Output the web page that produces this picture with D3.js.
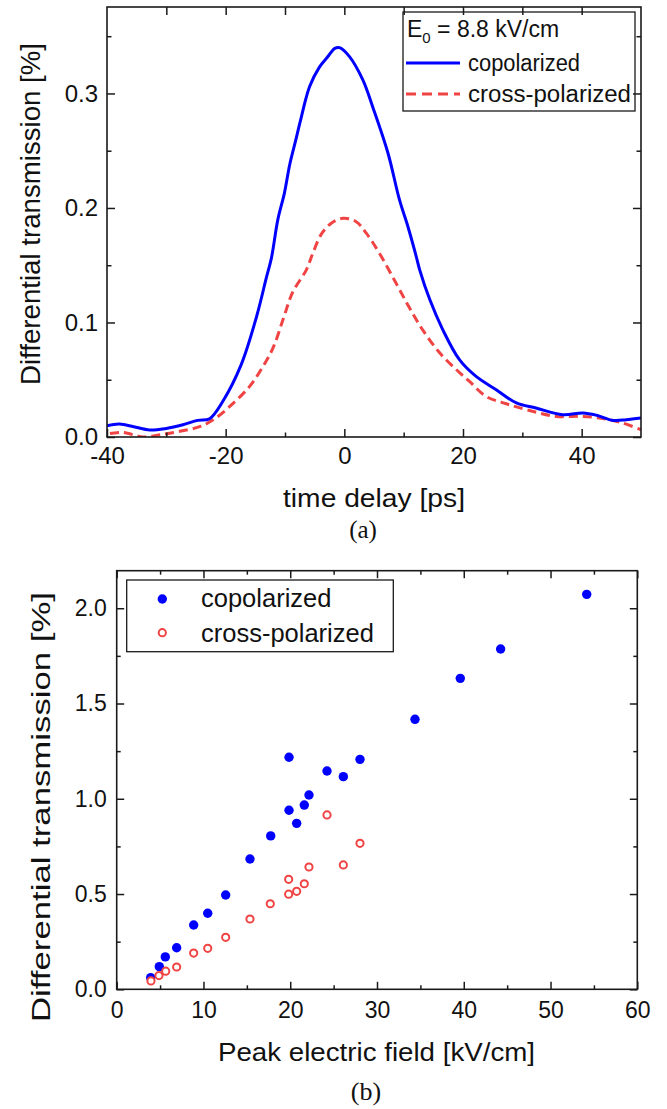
<!DOCTYPE html>
<html>
<head>
<meta charset="utf-8">
<script src="https://cdn.jsdelivr.net/npm/d3@7.9.0/dist/d3.min.js"></script>
<style>
  body { margin: 0; background: #fff; }
  svg { display: block; font-family: "Liberation Sans", Arial, sans-serif; }
</style>
</head>
<body>
<svg id="fig" width="667" height="1109"></svg>
<script>
// (a) time-resolved differential transmission, E0 = 8.8 kV/cm
const coTime = [-40, -37.9, -35.5, -32.8, -30, -27.2, -24.7, -22.7, -20.5, -17.4, -14.8, -13.1, -12.3, -11.2, -10.1, -9.2, -8.2, -7.5, -5.85, -4.2, -2.8, -1.6, -0.8, 0.9, 3.1, 4.8, 7.35, 9.3, 10.7, 12.1, 12.7, 14.4, 16.6, 19.4, 22.2, 25.6, 29, 32.3, 36.8, 40.2, 42.5, 45.3, 47.5, 50];
const coValue = [0.0099, 0.0113, 0.009, 0.0061, 0.0075, 0.0107, 0.0145, 0.016, 0.031, 0.063, 0.105, 0.140, 0.156, 0.190, 0.213, 0.238, 0.259, 0.274, 0.306, 0.323, 0.332, 0.3394, 0.340, 0.332, 0.312, 0.288, 0.248, 0.207, 0.184, 0.158, 0.146, 0.120, 0.0936, 0.0675, 0.0529, 0.0413, 0.0297, 0.0253, 0.0195, 0.021, 0.019, 0.0145, 0.0151, 0.0166];
const crossTime = [-39.5, -37.3, -33.9, -31.1, -27.7, -24.4, -22.1, -19.3, -16, -13.7, -12, -10.3, -8.7, -6.4, -5.3, -3.9, -2.2, -0.2, 2.0, 3.7, 5.9, 8.75, 11, 13.2, 16.1, 18.9, 21.1, 23.9, 27.3, 31.2, 35.7, 40.2, 44.1, 46.9, 50];
const crossValue = [0.003, 0.004, 0.0, 0.002, 0.005, 0.009, 0.015, 0.0267, 0.044, 0.0616, 0.078, 0.103, 0.1265, 0.146, 0.1606, 0.177, 0.1867, 0.191, 0.188, 0.178, 0.1606, 0.134, 0.1126, 0.0936, 0.0733, 0.0587, 0.0485, 0.0354, 0.029, 0.0232, 0.018, 0.018, 0.0157, 0.0122, 0.0064];

const delayTicks = [-40, -20, 0, 20, 40];
const delayMinor = [-30, -10, 10, 30];
const delayTop = [-30, -20, -10, 0, 10, 20, 30, 40];
const dtTicks = [0.0, 0.1, 0.2, 0.3];
const dtMinor = [0.05, 0.15, 0.25, 0.35];

// (b) peak differential transmission vs field
const coField = [3.92, 4.91, 5.6, 6.91, 8.87, 10.49, 12.56, 15.36, 17.75, 19.86, 19.86, 20.74, 21.62, 22.16, 24.24, 26.12, 28.04, 34.38, 39.6, 44.25, 54.17];
const coPeak = [0.061, 0.119, 0.170, 0.218, 0.3375, 0.399, 0.495, 0.684, 0.805, 1.218, 0.94, 0.871, 0.967, 1.02, 1.146, 1.116, 1.207, 1.417, 1.632, 1.786, 2.073];
const crossField = [3.95, 4.87, 5.65, 6.91, 8.87, 10.49, 12.56, 15.36, 17.7, 19.82, 19.82, 20.74, 21.62, 22.16, 24.24, 26.12, 28.04];
const crossPeak = [0.044, 0.072, 0.095, 0.117, 0.19, 0.215, 0.273, 0.369, 0.449, 0.577, 0.499, 0.514, 0.554, 0.642, 0.915, 0.653, 0.766];

const fieldTicks = [0, 10, 20, 30, 40, 50, 60];
const fieldMinor = [5, 15, 25, 35, 45, 55];
const peakTicks = [0.0, 0.5, 1.0, 1.5, 2.0];
const peakMinor = [0.25, 0.75, 1.25, 1.75];

const BLUE = "#0000ff";
const RED = "#f04444";
const FRAME = "#1a1a1a";

const svg = d3.select("#fig");

// inward ticks on all four sides, labels only bottom/left
function drawFrame(g, x, y, w, h, opt) {
    const fmtY = d3.format(".1f");
    const fmtX = d => String(d); // plain hyphen, like the original
    const bottom = g.append("g").attr("transform", `translate(0,${h})`);
    bottom.call(d3.axisBottom(x).tickValues(opt.xMajor).tickSizeInner(-opt.major).tickSizeOuter(0).tickPadding(opt.xPad).tickFormat(fmtX));
    bottom.append("g").call(d3.axisBottom(x).tickValues(opt.xMinor).tickSizeInner(-opt.minor).tickSizeOuter(0).tickFormat(""));
    const left = g.append("g");
    left.call(d3.axisLeft(y).tickValues(opt.yMajor).tickSizeInner(-opt.major).tickSizeOuter(0).tickPadding(opt.yPad).tickFormat(fmtY));
    left.append("g").call(d3.axisLeft(y).tickValues(opt.yMinor).tickSizeInner(-opt.minor).tickSizeOuter(0).tickFormat(""));
    const top = g.append("g");
    top.call(d3.axisTop(x).tickValues(opt.topMajor).tickSizeInner(-opt.major).tickSizeOuter(0).tickFormat(""));
    top.append("g").call(d3.axisTop(x).tickValues(opt.topMinor).tickSizeInner(-opt.minor).tickSizeOuter(0).tickFormat(""));
    const right = g.append("g").attr("transform", `translate(${w},0)`);
    right.call(d3.axisRight(y).tickValues(opt.yMajor).tickSizeInner(-opt.major).tickSizeOuter(0).tickFormat(""));
    right.append("g").call(d3.axisRight(y).tickValues(opt.yMinor).tickSizeInner(-opt.minor).tickSizeOuter(0).tickFormat(""));

    g.selectAll(".domain").remove();
    g.selectAll(".tick line").attr("stroke", FRAME).attr("stroke-width", 1.5);
    g.selectAll(".tick text")
      .attr("font-family", "Liberation Sans, Arial, sans-serif")
      .attr("font-size", opt.tickFont)
      .attr("fill", "#111");

    g.append("rect")
      .attr("width", w)
      .attr("height", h)
      .attr("fill", "none")
      .attr("stroke", FRAME)
      .attr("stroke-width", 1.6);
}

// ---------- panel (a)
function drawPanelA() {
    const margin = { left: 107, top: 7 };
    const width = 534, height = 430;
    const g = svg.append("g").attr("transform", `translate(${margin.left},${margin.top})`);
    const x = d3.scaleLinear().domain([-40, 50]).range([0, width]);
    const y = d3.scaleLinear().domain([0, 0.3755]).range([height, 0]);

    const clip = svg.append("clipPath").attr("id", "clipA");
    clip.append("rect").attr("width", width).attr("height", height);

    const line = d3.line().x(d => x(d[0])).y(d => y(d[1])).curve(d3.curveCatmullRom.alpha(0.5));
    const co = coTime.map((t, i) => [t, coValue[i]]);
    const cross = crossTime.map((t, i) => [t, crossValue[i]]);

    const plot = g.append("g").attr("clip-path", "url(#clipA)");
    plot.append("path")
      .datum(cross)
      .attr("fill", "none")
      .attr("stroke", RED)
      .attr("stroke-width", 3)
      .attr("stroke-dasharray", "9,5")
      .attr("d", line);
    plot.append("path")
      .datum(co)
      .attr("fill", "none")
      .attr("stroke", BLUE)
      .attr("stroke-width", 3)
      .attr("d", line);

    // legend
    const lg = g.append("g").attr("transform", `translate(${403 - margin.left},${12 - margin.top})`);
    lg.append("rect")
      .attr("width", 232)
      .attr("height", 99)
      .attr("fill", "#fff")
      .attr("stroke", FRAME)
      .attr("stroke-width", 1.3);
    const e0 = lg.append("text")
      .attr("x", 4)
      .attr("y", 25)
      .attr("font-size", 23)
      .attr("fill", "#111");
    e0.append("tspan").text("E");
    e0.append("tspan").attr("dy", 6).attr("font-size", 15).text("0");
    e0.append("tspan").attr("dy", -6).text(" = 8.8 kV/cm");

    const items = [
      { label: "copolarized", color: BLUE, dash: null, y: 51 },
      { label: "cross-polarized", color: RED, dash: "10,6", y: 82 }
    ];
    items.forEach(d => {
      lg.append("line")
        .attr("x1", 3).attr("x2", 57)
        .attr("y1", d.y).attr("y2", d.y)
        .attr("stroke", d.color)
        .attr("stroke-width", 3)
        .attr("stroke-dasharray", d.dash);
      lg.append("text")
        .attr("x", 65)
        .attr("y", d.y + 8)
        .attr("font-size", 23)
        .attr("textLength", d.label.length > 12 ? 163 : 112)
        .attr("lengthAdjust", "spacingAndGlyphs")
        .attr("fill", "#111")
        .text(d.label);
    });

    drawFrame(g, x, y, width, height, {
      xMajor: delayTicks, xMinor: delayMinor,
      topMajor: delayTop, topMinor: [],
      yMajor: dtTicks, yMinor: dtMinor,
      major: 8, minor: 4.5, xPad: 10, yPad: 9, tickFont: 24
    });

    svg.append("text")
      .attr("x", 374)
      .attr("y", 507)
      .attr("text-anchor", "middle")
      .attr("font-size", 26)
      .attr("textLength", 182)
      .attr("lengthAdjust", "spacingAndGlyphs")
      .attr("fill", "#111")
      .text("time delay [ps]");
    svg.append("text")
      .attr("transform", "translate(40,214) rotate(-90)")
      .attr("text-anchor", "middle")
      .attr("font-size", 27)
      .attr("textLength", 342)
      .attr("lengthAdjust", "spacingAndGlyphs")
      .attr("fill", "#111")
      .text("Differential transmission [%]");
    svg.append("text")
      .attr("x", 363)
      .attr("y", 538)
      .attr("text-anchor", "middle")
      .attr("font-family", "Liberation Serif, Times New Roman, serif")
      .attr("font-size", 25)
      .attr("fill", "#111")
      .text("(a)");
}

// ---------- panel (b)
function drawPanelB() {
    const margin = { left: 116.7, top: 570.7 };
    const width = 520.6, height = 418.6;
    const g = svg.append("g").attr("transform", `translate(${margin.left},${margin.top})`);
    const x = d3.scaleLinear().domain([0, 60]).range([0, width]);
    const y = d3.scaleLinear().domain([0, 2.197]).range([height, 0]);

    // legend
    const lg = g.append("g").attr("transform", `translate(${126.7 - margin.left},${580 - margin.top})`);
    lg.append("rect")
      .attr("width", 266.6)
      .attr("height", 71.7)
      .attr("fill", "#fff")
      .attr("stroke", FRAME)
      .attr("stroke-width", 1.3);
    lg.append("circle")
      .attr("cx", 35.6).attr("cy", 19)
      .attr("r", 4.7)
      .attr("fill", BLUE);
    lg.append("circle")
      .attr("cx", 35.6).attr("cy", 52.7)
      .attr("r", 3.6)
      .attr("fill", "#fff")
      .attr("stroke", RED)
      .attr("stroke-width", 2);
    lg.append("text").attr("x", 74.3).attr("y", 27).attr("font-size", 25.5).attr("fill", "#111").text("copolarized");
    lg.append("text").attr("x", 74.3).attr("y", 61.5).attr("font-size", 25.5).attr("fill", "#111").text("cross-polarized");

    g.selectAll(".co-dot")
      .data(coField.map((f, i) => [f, coPeak[i]]))
      .enter().append("circle")
        .attr("class", "co-dot")
        .attr("cx", d => x(d[0]))
        .attr("cy", d => y(d[1]))
        .attr("r", 4.7)
        .attr("fill", BLUE);
    g.selectAll(".cross-dot")
      .data(crossField.map((f, i) => [f, crossPeak[i]]))
      .enter().append("circle")
        .attr("class", "cross-dot")
        .attr("cx", d => x(d[0]))
        .attr("cy", d => y(d[1]))
        .attr("r", 3.6)
        .attr("fill", "#fff")
        .attr("stroke", RED)
        .attr("stroke-width", 2);

    drawFrame(g, x, y, width, height, {
      xMajor: fieldTicks, xMinor: fieldMinor,
      topMajor: fieldTicks, topMinor: fieldMinor,
      yMajor: peakTicks, yMinor: peakMinor,
      major: 7.5, minor: 4, xPad: 12, yPad: 10, tickFont: 23
    });

    svg.append("text")
      .attr("x", 376.5)
      .attr("y", 1061)
      .attr("text-anchor", "middle")
      .attr("font-size", 26.5)
      .attr("textLength", 317)
      .attr("lengthAdjust", "spacingAndGlyphs")
      .attr("fill", "#111")
      .text("Peak electric field [kV/cm]");
    svg.append("text")
      .attr("transform", "translate(50,807) rotate(-90)")
      .attr("text-anchor", "middle")
      .attr("font-size", 25)
      .attr("textLength", 430)
      .attr("lengthAdjust", "spacingAndGlyphs")
      .attr("fill", "#111")
      .text("Differential transmission [%]");
    svg.append("text")
      .attr("x", 366)
      .attr("y", 1100)
      .attr("text-anchor", "middle")
      .attr("font-family", "Liberation Serif, Times New Roman, serif")
      .attr("font-size", 26)
      .attr("fill", "#111")
      .text("(b)");
}

drawPanelA();
drawPanelB();
</script>
</body>
</html>
